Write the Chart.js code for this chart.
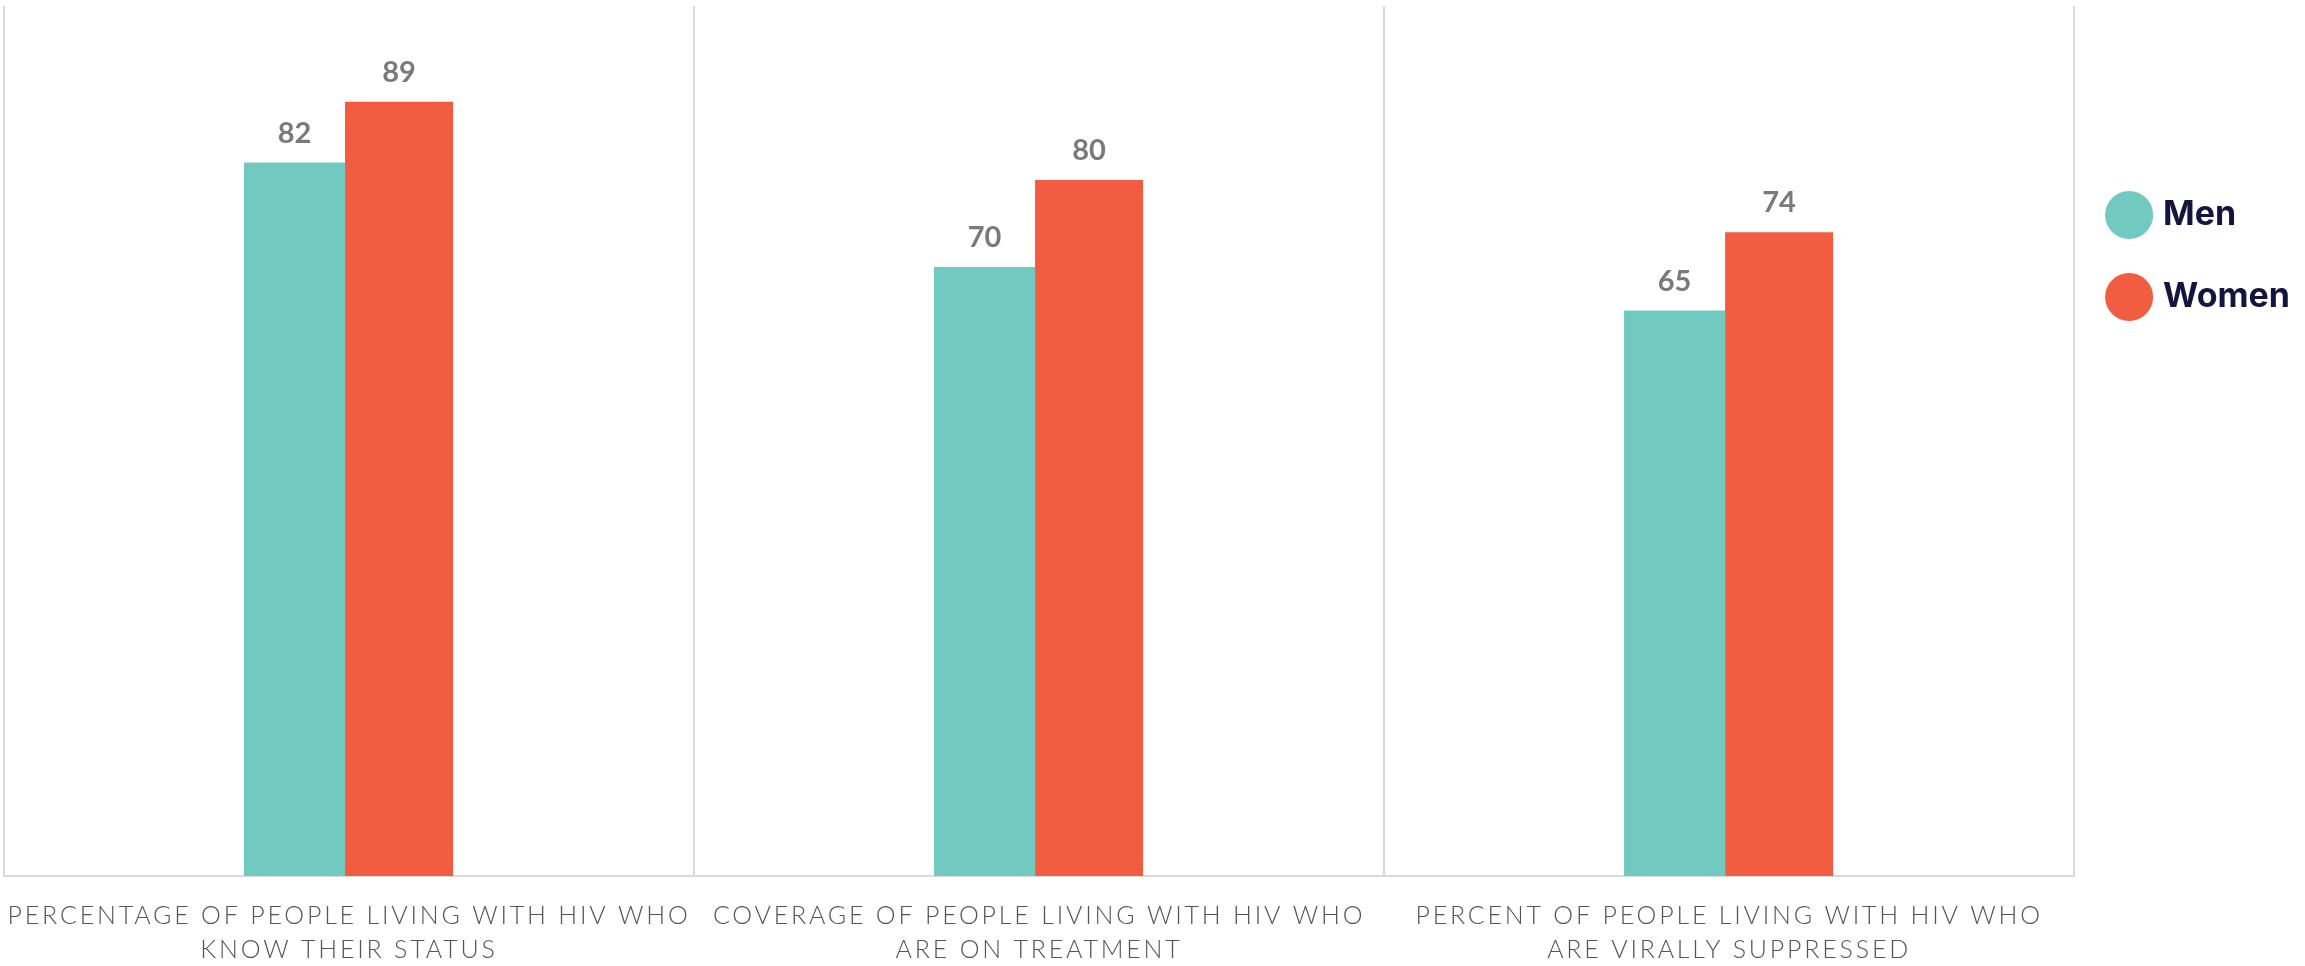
<!DOCTYPE html>
<html>
<head>
<meta charset="utf-8">
<script src="https://cdn.jsdelivr.net/npm/chart.js@4/dist/chart.umd.min.js"></script>
<style>
  html, body { margin: 0; padding: 0; background: #ffffff; }
  #wrap { position: relative; width: 2305px; height: 966px; }
</style>
</head>
<body>
<div id="wrap"><canvas id="chart"></canvas></div>
<script>
// ---- data ----
const categories = [
  ["PERCENTAGE OF PEOPLE LIVING WITH HIV WHO", "KNOW THEIR STATUS"],
  ["COVERAGE OF PEOPLE LIVING WITH HIV WHO", "ARE ON TREATMENT"],
  ["PERCENT OF PEOPLE LIVING WITH HIV WHO", "ARE VIRALLY SUPPRESSED"]
];
const seriesNames = ["Men", "Women"];
const menValues = [82, 70, 65];
const womenValues = [89, 80, 74];
const seriesColors = ["#72C9BF", "#F25D42"];

// value labels above the bars
const valueLabels = {
  id: 'valueLabels',
  afterDatasetsDraw(chart) {
    const ctx = chart.ctx;
    ctx.save();
    ctx.font = '700 29px Lato';
    ctx.fillStyle = '#7a7a7a';
    ctx.textAlign = 'center';
    ctx.textBaseline = 'alphabetic';
    chart.data.datasets.forEach((ds, i) => {
      const meta = chart.getDatasetMeta(i);
      meta.data.forEach((bar, j) => {
        ctx.fillText(String(ds.data[j]), bar.x, bar.y - 20);
      });
    });
    ctx.restore();
  }
};

// letter spacing for category labels only
const tickSpacing = {
  id: 'tickSpacing',
  beforeDraw(chart) {
    const sc = chart.scales.x;
    if (sc && !sc._spaced) {
      const orig = sc.drawLabels;
      sc.drawLabels = function (area) {
        const ctx = this.ctx;
        const prev = ctx.letterSpacing;
        ctx.letterSpacing = '2.8px';
        orig.call(this, area);
        ctx.letterSpacing = prev || '0px';
      };
      sc._spaced = true;
    }
  }
};

function draw() {
  new Chart(document.getElementById('chart'), {
    type: 'bar',
    data: {
      labels: categories,
      datasets: [
        { label: seriesNames[0], data: menValues, backgroundColor: seriesColors[0], borderWidth: 0,
          categoryPercentage: 0.316, barPercentage: 0.927 },
        { label: seriesNames[1], data: womenValues, backgroundColor: seriesColors[1], borderWidth: 0,
          categoryPercentage: 0.29, barPercentage: 1.08 }
      ]
    },
    options: {
      responsive: true,
      maintainAspectRatio: false,
      animation: false,
      layout: { padding: { left: 4, top: 6, right: 5, bottom: -24 } },
      plugins: {
        tooltip: { enabled: false },
        legend: {
          position: 'right',
          align: 'start',
          title: { display: true, text: ' ', padding: { top: 142, bottom: 0 }, font: { size: 10, lineHeight: 1.2 } },
          labels: {
            usePointStyle: true,
            pointStyle: 'circle',
            boxWidth: 34,
            boxHeight: 34,
            padding: 38,
            color: '#14143f',
            font: { family: 'Inter', weight: '700', size: 34, lineHeight: 44 / 34 },
            generateLabels(chart) {
              const items = Chart.defaults.plugins.legend.labels.generateLabels(chart);
              items.forEach(it => { it.text = [it.text]; it.lineWidth = 0; });
              return items;
            }
          }
        }
      },
      scales: {
        x: {
          grid: { display: true, offset: true, color: '#d9d9d9', lineWidth: 2, drawTicks: false },
          border: { display: true, color: '#d9d9d9', width: 2 },
          ticks: {
            autoSkip: false,
            maxRotation: 0,
            minRotation: 0,
            padding: 23,
            color: '#555555',
            font: { family: 'Lato', weight: '300', size: 25, lineHeight: 1.36 }
          }
        },
        y: {
          display: false,
          min: 0,
          max: 100,
          grid: { display: false }
        }
      }
    },
    plugins: [valueLabels, tickSpacing]
  });
}

const fontLoads = [
  document.fonts.load('300 25px Lato'),
  document.fonts.load('700 29px Lato'),
  document.fonts.load('700 34px Inter')
];
Promise.all(fontLoads).then(draw, draw);
</script>
</body>
</html>
